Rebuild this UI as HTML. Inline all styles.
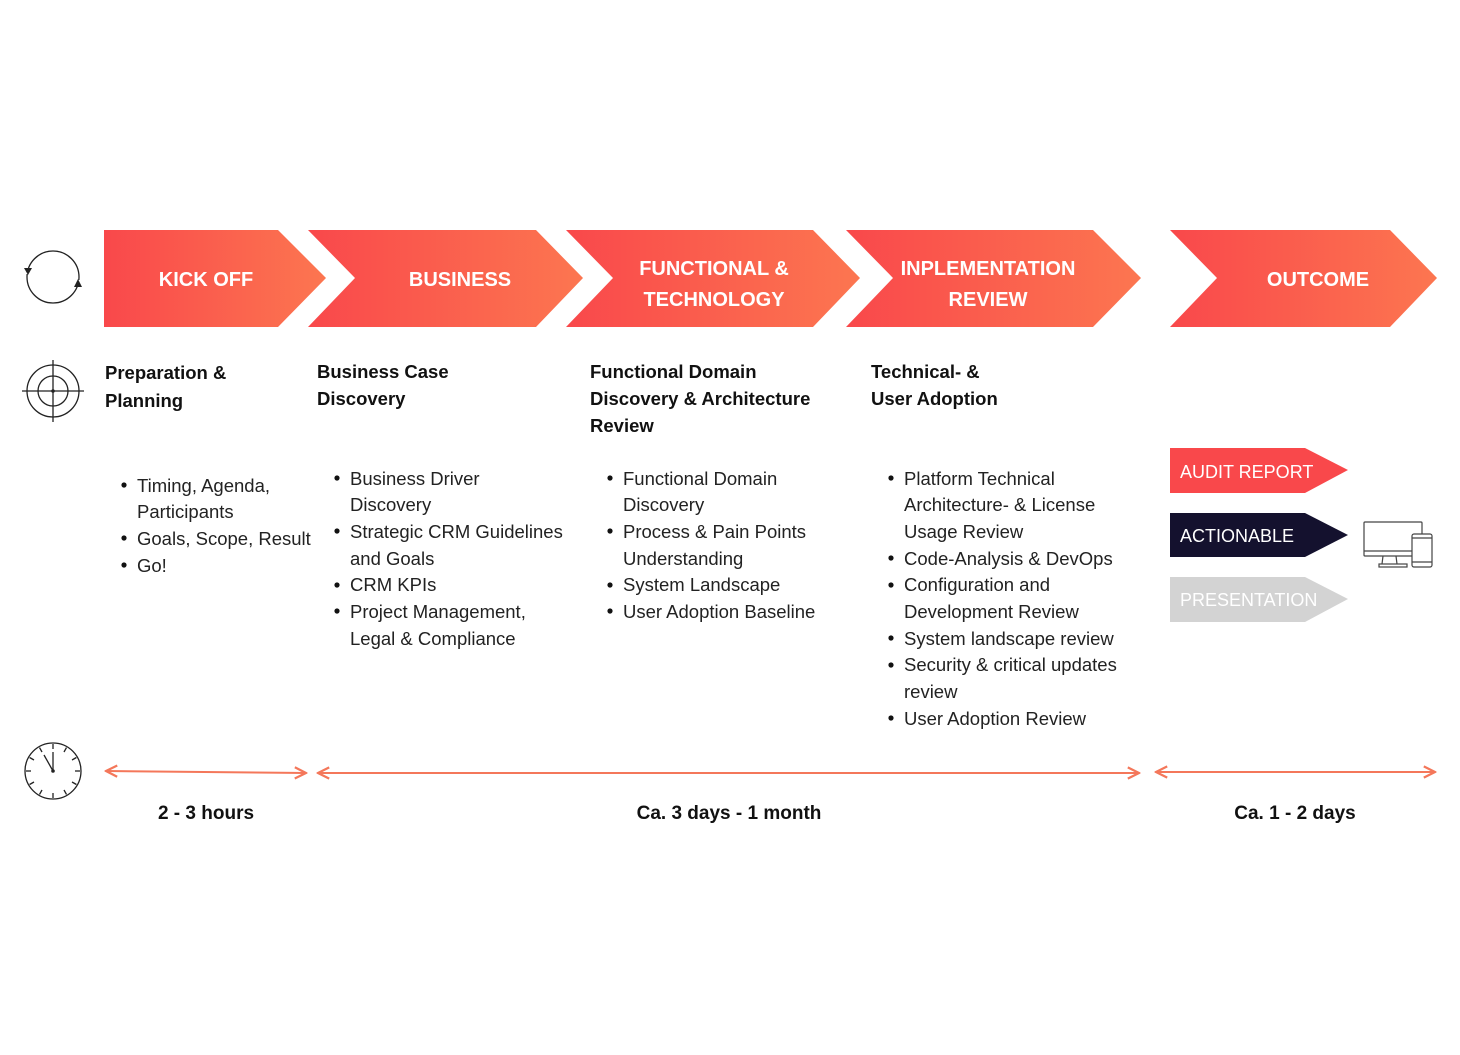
<!DOCTYPE html>
<html><head><meta charset="utf-8"><style>
html,body{margin:0;padding:0;background:#fff;width:1460px;height:1055px;overflow:hidden}
svg{display:block}
.h{font-family:"Liberation Sans",sans-serif;font-weight:bold;fill:#fff;font-size:20px}
.s{font-family:"Liberation Sans",sans-serif;font-weight:bold;fill:#111;font-size:18.5px}
.b{font-family:"Liberation Sans",sans-serif;fill:#222;font-size:18.5px}
.t{font-family:"Liberation Sans",sans-serif;font-weight:bold;fill:#111;font-size:19px}
.o{font-family:"Liberation Sans",sans-serif;fill:#fff;font-size:18px}
</style></head><body>
<svg width="1460" height="1055" viewBox="0 0 1460 1055" xmlns="http://www.w3.org/2000/svg">
<defs>
<linearGradient id="g" x1="0" y1="0" x2="1" y2="0">
<stop offset="0" stop-color="#f9484b"/><stop offset="1" stop-color="#fc7650"/>
</linearGradient>
<marker id="ah" viewBox="0 0 10 10" refX="9" refY="5" markerWidth="7" markerHeight="7" orient="auto-start-reverse">
<path d="M1 1 L9 5 L1 9" fill="none" stroke="#f4775a" stroke-width="1.6"/>
</marker>
</defs>
<polygon points="104,230 278,230 326,278 278,327 104,327" fill="url(#g)"/>
<polygon points="308,230 536,230 583,278 536,327 308,327 355,278" fill="url(#g)"/>
<polygon points="566,230 813,230 860,278 813,327 566,327 613,278" fill="url(#g)"/>
<polygon points="846,230 1093,230 1141,278 1093,327 846,327 893,278" fill="url(#g)"/>
<polygon points="1170,230 1390,230 1437,278 1390,327 1170,327 1217,278" fill="url(#g)"/>
<text class="h" x="206" y="286" text-anchor="middle">KICK OFF</text>
<text class="h" x="460" y="286" text-anchor="middle">BUSINESS</text>
<text class="h" x="714" y="275" text-anchor="middle">FUNCTIONAL &amp;</text>
<text class="h" x="714" y="306" text-anchor="middle">TECHNOLOGY</text>
<text class="h" x="988" y="275" text-anchor="middle">INPLEMENTATION</text>
<text class="h" x="988" y="306" text-anchor="middle">REVIEW</text>
<text class="h" x="1318" y="286" text-anchor="middle">OUTCOME</text>
<g fill="none" stroke="#222" stroke-width="1.3">
<circle cx="53" cy="277" r="26"/>
<circle cx="53" cy="391" r="26"/><circle cx="53" cy="391" r="15"/>
<line x1="22" y1="391" x2="84" y2="391"/><line x1="53" y1="360" x2="53" y2="422"/>
<circle cx="53" cy="771" r="28"/>
<line x1="53" y1="771" x2="53" y2="752"/><line x1="53" y1="771" x2="44" y2="755"/>
</g>
<rect x="20" y="268" width="14" height="6" fill="#fff"/><rect x="72" y="280" width="14" height="6" fill="#fff"/>
<polygon points="24,268 32,268 28,275" fill="#222"/>
<polygon points="74,287 82,287 78,279" fill="#222"/>
<circle cx="53" cy="391" r="1.8" fill="#222"/>
<circle cx="53" cy="771" r="1.8" fill="#222"/>
<g stroke="#222" stroke-width="1.3">
<line x1="53" y1="744" x2="53" y2="749"/><line x1="53" y1="793" x2="53" y2="798"/>
<line x1="26" y1="771" x2="31" y2="771"/><line x1="75" y1="771" x2="80" y2="771"/>
<line x1="66.5" y1="747.6" x2="64" y2="752"/><line x1="76.4" y1="757.5" x2="72" y2="760"/>
<line x1="76.4" y1="784.5" x2="72" y2="782"/><line x1="66.5" y1="794.4" x2="64" y2="790"/>
<line x1="39.5" y1="794.4" x2="42" y2="790"/><line x1="29.6" y1="784.5" x2="34" y2="782"/>
<line x1="29.6" y1="757.5" x2="34" y2="760"/><line x1="39.5" y1="747.6" x2="42" y2="752"/>
</g>
<text class="s"><tspan x="105" y="379">Preparation &amp;</tspan><tspan x="105" y="407">Planning</tspan></text>
<text class="s"><tspan x="317" y="378">Business Case</tspan><tspan x="317" y="405">Discovery</tspan></text>
<text class="s"><tspan x="590" y="378">Functional Domain</tspan><tspan x="590" y="405">Discovery &amp; Architecture</tspan><tspan x="590" y="432">Review</tspan></text>
<text class="s"><tspan x="871" y="378">Technical- &amp;</tspan><tspan x="871" y="405">User Adoption</tspan></text>
<g fill="#111">
<circle cx="124" cy="485" r="2.6"/><circle cx="124" cy="538" r="2.6"/><circle cx="124" cy="565" r="2.6"/>
<circle cx="337" cy="478" r="2.6"/><circle cx="337" cy="531" r="2.6"/><circle cx="337" cy="585" r="2.6"/><circle cx="337" cy="611" r="2.6"/>
<circle cx="610" cy="478" r="2.6"/><circle cx="610" cy="531" r="2.6"/><circle cx="610" cy="585" r="2.6"/><circle cx="610" cy="611" r="2.6"/>
<circle cx="891" cy="478" r="2.6"/><circle cx="891" cy="558" r="2.6"/><circle cx="891" cy="585" r="2.6"/><circle cx="891" cy="638" r="2.6"/><circle cx="891" cy="665" r="2.6"/><circle cx="891" cy="718" r="2.6"/>
</g>
<text class="b"><tspan x="137" y="492">Timing, Agenda,</tspan><tspan x="137" y="518">Participants</tspan><tspan x="137" y="545">Goals, Scope, Result</tspan><tspan x="137" y="572">Go!</tspan></text>
<text class="b"><tspan x="350" y="485">Business Driver</tspan><tspan x="350" y="511">Discovery</tspan><tspan x="350" y="538">Strategic CRM Guidelines</tspan><tspan x="350" y="565">and Goals</tspan><tspan x="350" y="591">CRM KPIs</tspan><tspan x="350" y="618">Project Management,</tspan><tspan x="350" y="645">Legal &amp; Compliance</tspan></text>
<text class="b"><tspan x="623" y="485">Functional Domain</tspan><tspan x="623" y="511">Discovery</tspan><tspan x="623" y="538">Process &amp; Pain Points</tspan><tspan x="623" y="565">Understanding</tspan><tspan x="623" y="591">System Landscape</tspan><tspan x="623" y="618">User Adoption Baseline</tspan></text>
<text class="b"><tspan x="904" y="485">Platform Technical</tspan><tspan x="904" y="511">Architecture- &amp; License</tspan><tspan x="904" y="538">Usage Review</tspan><tspan x="904" y="565">Code-Analysis &amp; DevOps</tspan><tspan x="904" y="591">Configuration and</tspan><tspan x="904" y="618">Development Review</tspan><tspan x="904" y="645">System landscape review</tspan><tspan x="904" y="671">Security &amp; critical updates</tspan><tspan x="904" y="698">review</tspan><tspan x="904" y="725">User Adoption Review</tspan></text>
<polygon points="1170,448 1305,448 1348,470 1305,493 1170,493" fill="#f9484b"/>
<polygon points="1170,513 1305,513 1348,535 1305,557 1170,557" fill="#14112e"/>
<polygon points="1170,577 1305,577 1348,599 1305,622 1170,622" fill="#d3d3d3"/>
<text class="o" x="1180" y="478">AUDIT REPORT</text>
<text class="o" x="1180" y="542">ACTIONABLE</text>
<text class="o" x="1180" y="606">PRESENTATION</text>
<g fill="none" stroke="#444" stroke-width="1.2">
<rect x="1364" y="522" width="58" height="34" rx="1"/>
<line x1="1364" y1="551" x2="1412" y2="551"/>
<path d="M1383 556 L1382 564 M1396 556 L1397 564"/>
<rect x="1379" y="564" width="28" height="3"/>
<rect x="1412" y="534" width="20" height="33" rx="2" fill="#fff"/>
<line x1="1412" y1="538" x2="1432" y2="538"/><line x1="1412" y1="562" x2="1432" y2="562"/>
</g>
<g stroke="#f4775a" stroke-width="2" fill="none">
<line x1="106" y1="771" x2="306" y2="773" marker-start="url(#ah)" marker-end="url(#ah)"/>
<line x1="318" y1="773" x2="1139" y2="773" marker-start="url(#ah)" marker-end="url(#ah)"/>
<line x1="1156" y1="772" x2="1435" y2="772" marker-start="url(#ah)" marker-end="url(#ah)"/>
</g>
<text class="t" x="206" y="819" text-anchor="middle">2 - 3 hours</text>
<text class="t" x="729" y="819" text-anchor="middle">Ca. 3 days - 1 month</text>
<text class="t" x="1295" y="819" text-anchor="middle">Ca. 1 - 2 days</text>
</svg>
</body></html>
